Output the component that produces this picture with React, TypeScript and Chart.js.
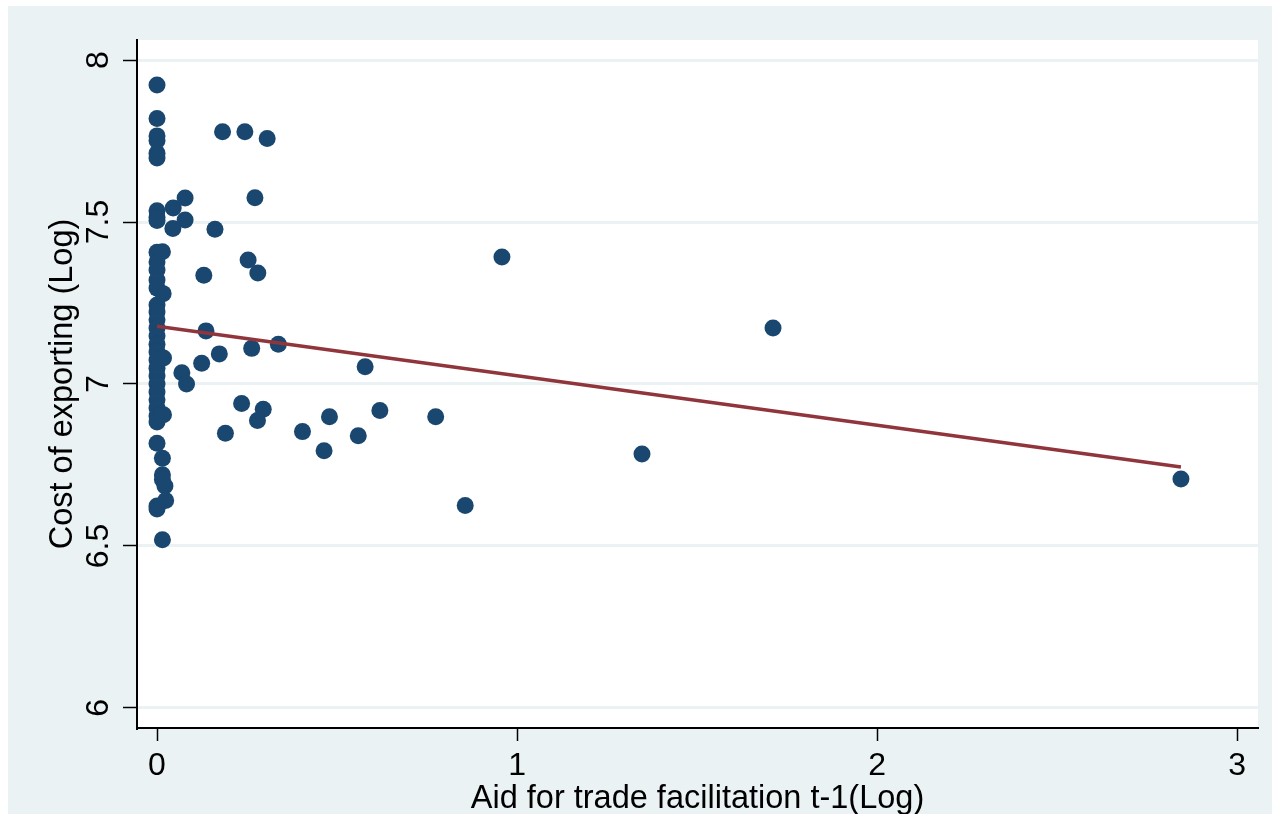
import React, { useEffect, useRef } from "react";
import { Chart, registerables } from "chart.js";

Chart.register(...registerables);

// Scatter points: aid for trade facilitation t-1 (log) vs cost of exporting (log)
const xValues: number[] = [
  0, 0, 0, 0, 0, 0, 0, 0, 0, 0,
  0, 0, 0, 0, 0, 0, 0, 0, 0, 0,
  0, 0, 0, 0, 0, 0, 0, 0, 0, 0,
  0, 0, 0,
  0.015, 0.017, 0.018, 0.018, 0.015, 0.015, 0.015, 0.022, 0.024, 0.015,
  0.045, 0.078, 0.078, 0.044, 0.161, 0.182, 0.244, 0.306, 0.272, 0.13,
  0.253, 0.28, 0.136, 0.069, 0.082, 0.124, 0.173, 0.263, 0.337, 0.235,
  0.295, 0.279, 0.19, 0.404, 0.578, 0.479, 0.464, 0.559, 0.619, 0.774,
  0.856, 0.958, 1.711, 1.347, 2.844,
];
const yValues: number[] = [
  7.923, 7.82, 7.766, 7.752, 7.712, 7.698, 7.535, 7.515, 7.505, 7.407,
  7.377, 7.352, 7.321, 7.296, 7.244, 7.222, 7.198, 7.173, 7.148, 7.123,
  7.099, 7.074, 7.049, 7.025, 7.0, 6.975, 6.951, 6.926, 6.901, 6.883,
  6.817, 6.623, 6.614,
  7.408, 7.279, 7.08, 6.905, 6.771, 6.72, 6.705, 6.685, 6.64, 6.519,
  7.543, 7.574, 7.506, 7.48, 7.478, 7.779, 7.779, 7.758, 7.575, 7.336,
  7.383, 7.343, 7.164, 7.035, 7.0, 7.064, 7.093, 7.11, 7.123, 6.94,
  6.922, 6.887, 6.848, 6.853, 7.053, 6.899, 6.794, 6.84, 6.918, 6.899,
  6.625, 7.392, 7.173, 6.784, 6.707,
];

// Fitted line end points
const fitX: number[] = [0, 2.844];
const fitY: number[] = [7.178, 6.744];

const xTicks: number[] = [0, 1, 2, 3];
const yTicks: number[] = [6, 6.5, 7, 7.5, 8];

const xTitle = "Aid for trade facilitation t-1(Log)";
const yTitle = "Cost of exporting (Log)";

const FONT = "'Liberation Sans', Arial, Helvetica, sans-serif";
const BG = "#eaf2f3";

const plotBg = {
  id: "plotBg",
  beforeDraw(chart: any) {
    const { ctx, chartArea } = chart;
    if (!chartArea) return;
    ctx.save();
    ctx.fillStyle = "#ffffff";
    ctx.fillRect(
      chartArea.left,
      chartArea.top,
      chartArea.right - chartArea.left,
      chartArea.bottom - chartArea.top
    );
    ctx.restore();
  },
};

export default function App() {
  const ref = useRef<HTMLCanvasElement | null>(null);

  useEffect(() => {
    if (!ref.current) return;
    const chart = new Chart(ref.current, {
      type: "scatter",
      data: {
        datasets: [
          {
            type: "line",
            data: fitX.map((x, i) => ({ x, y: fitY[i] })),
            borderColor: "#90353b",
            borderWidth: 3.5,
            pointRadius: 0,
            fill: false,
            tension: 0,
            order: 0,
          } as any,
          {
            type: "scatter",
            data: xValues.map((x, i) => ({ x, y: yValues[i] })),
            backgroundColor: "#1a476f",
            borderColor: "#1a476f",
            pointRadius: 8.5,
            pointBorderWidth: 0,
            borderWidth: 0,
            order: 1,
          } as any,
        ],
      },
      options: {
        animation: false,
        responsive: false,
        devicePixelRatio: 1,
        layout: { padding: { left: 0, top: 34, right: 14, bottom: 0 } },
        plugins: {
          legend: { display: false },
          tooltip: { enabled: false },
        },
        scales: {
          x: {
            type: "linear",
            min: -0.0556,
            max: 3.058,
            afterBuildTicks: (s: any) => {
              s.ticks = xTicks.map((v) => ({ value: v }));
            },
            afterFit: (s: any) => {
              s.height = 86;
            },
            grid: {
              display: true,
              drawOnChartArea: false,
              tickLength: 13,
              tickColor: "#000",
              tickWidth: 1.5,
            },
            border: { display: true, color: "#000", width: 2 },
            ticks: {
              padding: 6.3,
              color: "#000",
              font: { family: FONT, size: 32 },
              autoSkip: false,
              minRotation: 0,
              maxRotation: 0,
              callback: (v: any) => String(v),
            },
            title: {
              display: true,
              text: xTitle,
              color: "#000",
              font: { family: FONT, size: 32.5 },
              padding: { top: 0, bottom: -5 },
            },
          },
          y: {
            type: "linear",
            min: 5.938,
            max: 8.062,
            afterBuildTicks: (s: any) => {
              s.ticks = yTicks.map((v) => ({ value: v }));
            },
            afterFit: (s: any) => {
              s.width = 129;
            },
            grid: {
              display: true,
              color: BG,
              lineWidth: 3,
              tickLength: 14,
              tickColor: "#000",
              tickWidth: 1.5,
            },
            border: { display: true, color: "#000", width: 2 },
            ticks: {
              padding: 1.8,
              crossAlign: "center",
              minRotation: 90,
              maxRotation: 90,
              color: "#000",
              font: { family: FONT, size: 32 },
              autoSkip: false,
              callback: (v: any) => String(v),
            },
            title: {
              display: true,
              text: yTitle,
              color: "#000",
              font: { family: FONT, size: 32.5 },
              padding: { top: 35.5, bottom: 0 },
            },
          },
        },
      } as any,
      plugins: [plotBg],
    });
    return () => chart.destroy();
  }, []);

  return (
    <div style={{ position: "fixed", left: 8, top: 6 }}>
      <canvas
        ref={ref}
        width={1264}
        height={808}
        style={{ display: "block", width: 1264, height: 808, background: BG }}
      />
    </div>
  );
}
